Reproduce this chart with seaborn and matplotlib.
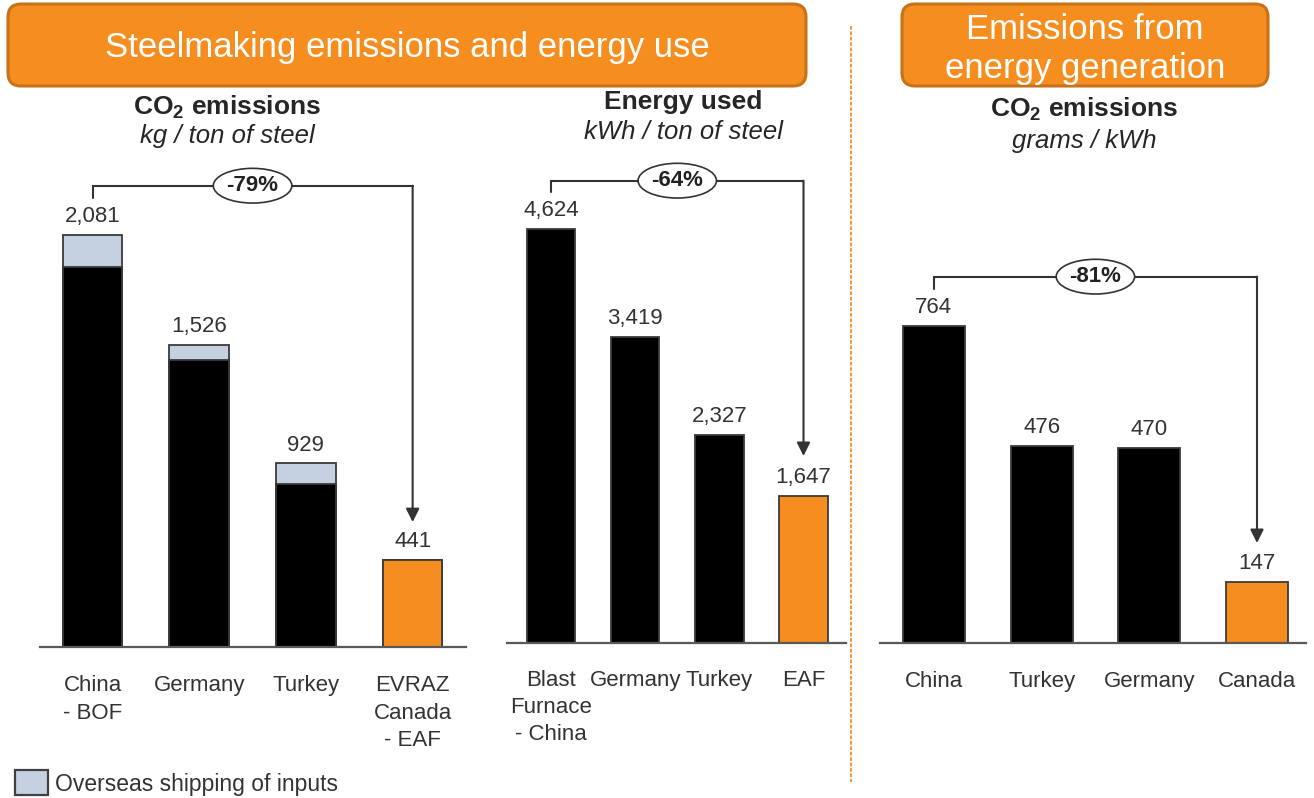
import numpy as np
import pandas as pd
import seaborn as sns
import matplotlib.pyplot as plt
from matplotlib.patches import FancyBboxPatch, Rectangle

# Steelmaking CO2 emissions, kg per ton of steel (total and overseas-shipping share)
steel_routes = ["China\n- BOF", "Germany", "Turkey", "EVRAZ\nCanada\n- EAF"]
steel_co2_total = [2081, 1526, 929, 441]
steel_co2_shipping = [160, 78, 107, 0]

# Steelmaking energy use, kWh per ton of steel
energy_routes = ["Blast\nFurnace\n- China", "Germany", "Turkey", "EAF"]
energy_kwh = [4624, 3419, 2327, 1647]

# CO2 intensity of electricity generation, grams per kWh
grid_countries = ["China", "Turkey", "Germany", "Canada"]
grid_co2 = [764, 476, 470, 147]

ORANGE = "#F68E1F"
ORANGE_EDGE = "#C8711B"
BLACK = "#000000"
SHIP = "#C5D0E1"
EDGE = "#3A3A3A"
TXT = "#262626"

sns.set_style("white")
plt.rcParams["font.family"] = ["Liberation Sans", "DejaVu Sans"]
plt.rcParams["mathtext.fontset"] = "custom"
plt.rcParams["mathtext.rm"] = "Liberation Sans"
plt.rcParams["mathtext.bf"] = "Liberation Sans:bold"
plt.rcParams["mathtext.it"] = "Liberation Sans:italic"

W, H = 1314, 798
fig = plt.figure(figsize=(W / 100, H / 100), dpi=100)


def rect(left, right, top, bottom):
    return [left / W, 1 - bottom / H, (right - left) / W, (bottom - top) / H]


def panel(box, cats, top_vals, base_vals, top_colors, base_colors, width, xlim, ymax, pad):
    ax = fig.add_axes(box)
    sns.barplot(x=cats, y=top_vals, hue=cats, palette=top_colors, legend=False,
                width=width, edgecolor=EDGE, linewidth=1.3, saturation=1, ax=ax)
    if base_vals is not None:
        sns.barplot(x=cats, y=base_vals, hue=cats, palette=base_colors, legend=False,
                    width=width, edgecolor=EDGE, linewidth=1.3, saturation=1, ax=ax)
    ax.set_xlim(*xlim)
    ax.set_ylim(0, ymax)
    ax.set_xlabel("")
    ax.set_ylabel("")
    ax.set_yticks([])
    for s in ["left", "right", "top"]:
        ax.spines[s].set_visible(False)
    ax.spines["bottom"].set_color("#595959")
    ax.spines["bottom"].set_linewidth(1.6)
    ax.tick_params(axis="x", length=0, pad=pad, labelsize=16, labelcolor="#333333")
    for lab in ax.get_xticklabels():
        lab.set_linespacing(1.38)
        lab.set_multialignment("center")
    for i, v in enumerate(top_vals):
        ax.annotate(f"{v:,}", (i, v), xytext=(0, 13), textcoords="offset points",
                    ha="center", va="center", fontsize=16, color="#333333")
    return ax


def bracket(ax, values, y_line, y_start, y_tip):
    x0, x1 = 0, len(values) - 1
    ax.plot([x0, x0, x1], [y_start, y_line, y_line], color="#333333", lw=1.5,
            clip_on=False, solid_joinstyle="miter")
    ax.annotate("", xy=(x1, y_tip), xytext=(x1, y_line),
                arrowprops=dict(arrowstyle="-|>", color="#333333", lw=1.5,
                                mutation_scale=20, shrinkA=0, shrinkB=0),
                annotation_clip=False)
    pct = round((values[-1] / values[0] - 1) * 100)
    ax.text((x0 + x1) / 2, y_line, f"{pct}%", ha="center", va="center",
            fontsize=16, fontweight="bold", color="#222222",
            bbox=dict(boxstyle="ellipse,pad=0.08", fc="white", ec="#333333", lw=1.2),
            clip_on=False)


# Panel 1: stacked CO2 emissions (shipping share on top)
steel_base = [t - s for t, s in zip(steel_co2_total, steel_co2_shipping)]
ax1 = panel(rect(40, 466, 160, 647), steel_routes, steel_co2_total, steel_base,
            [SHIP, SHIP, SHIP, ORANGE], [BLACK, BLACK, BLACK, ORANGE],
            0.558, (-0.492, 3.50), 487 / 0.19798, 20.5)
bracket(ax1, steel_co2_total, 2330, 2269, 631)

# Panel 2: energy used
ax2 = panel(rect(507, 846, 160, 643), energy_routes, energy_kwh, None,
            [BLACK, BLACK, BLACK, ORANGE], None,
            0.576, (-0.523, 3.505), 483 / 0.08953, 19.5)
bracket(ax2, energy_kwh, 5164, 5037, 2089)

# Panel 3: grid CO2 intensity
ax3 = panel(rect(880, 1306, 160, 643), grid_countries, grid_co2, None,
            [BLACK, BLACK, BLACK, ORANGE], None,
            0.576, (-0.50, 3.455), 483 / 0.4149, 20)
bracket(ax3, grid_co2, 883, 853, 241)

# Overlay in pixel units for headers, subtitles, divider and legend
ov = fig.add_axes([0, 0, 1, 1])
ov.set_xlim(0, W)
ov.set_ylim(H, 0)
ov.axis("off")

for (x0, x1), label, ty in [((8, 806), "Steelmaking emissions and energy use", 47),
                            ((902, 1268), "Emissions from\nenergy generation", 49)]:
    ov.add_patch(FancyBboxPatch((x0, 4), x1 - x0, 82,
                                boxstyle="round,pad=0,rounding_size=13",
                                fc=ORANGE, ec=ORANGE_EDGE, lw=2.2))
    ov.text((x0 + x1) / 2, ty, label, ha="center", va="center", color="white",
            fontsize=25, linespacing=1.22)

subtitles = [
    (227, 107, r"CO$_\mathbf{2}$ emissions", 136, "kg / ton of steel"),
    (683, 102, "Energy used", 132, "kWh / ton of steel"),
    (1084, 109, r"CO$_\mathbf{2}$ emissions", 141, "grams / kWh"),
]
for x, y1, t1, y2, t2 in subtitles:
    ov.text(x, y1, t1, ha="center", va="center", fontsize=19, fontweight="bold", color=TXT)
    ov.text(x, y2, t2, ha="center", va="center", fontsize=18.5, style="italic", color=TXT)

# dashed divider between the two sections
ov.plot([851, 851], [26, 782], color=ORANGE, lw=1.3, linestyle=(0, (2, 1)))

# legend for the shipping segment
ov.add_patch(Rectangle((15, 770), 33, 25, fc=SHIP, ec="#404040", lw=1.6))
ov.text(55, 784, "Overseas shipping of inputs", ha="left", va="center",
        fontsize=16.5, color="#333333")

fig.savefig("out.png", dpi=100)
